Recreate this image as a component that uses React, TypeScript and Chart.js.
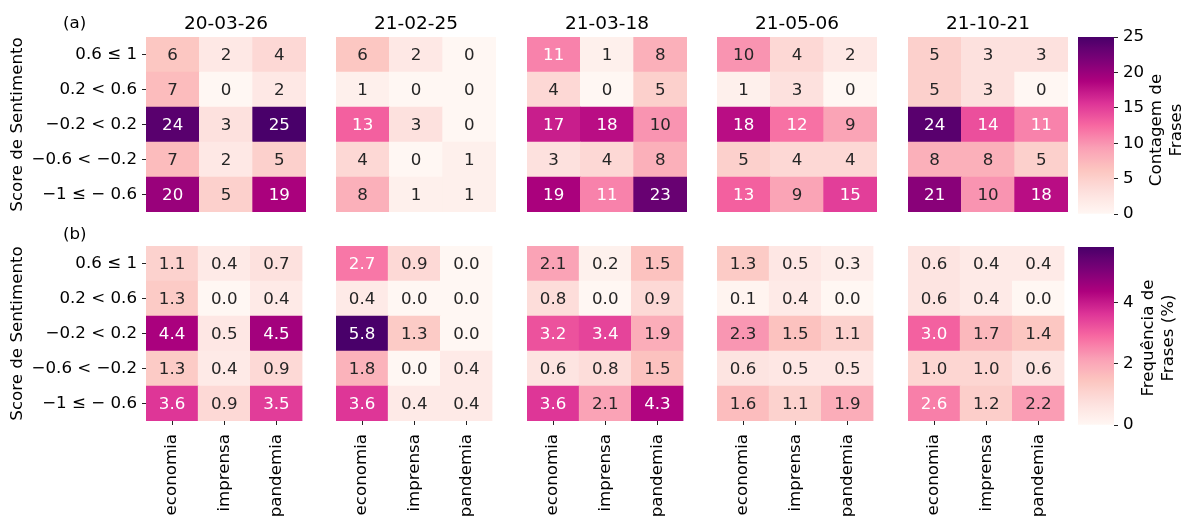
import React, { useEffect, useRef } from 'react';
import { Chart, registerables } from 'chart.js';

Chart.register(...registerables);

const FONT = 'DejaVu Sans';
const FS = 16.67;

// ---------------- data ----------------
const dates = ['20-03-26', '21-02-25', '21-03-18', '21-05-06', '21-10-21'];
const topics = ['economia', 'imprensa', 'pandemia'];
// top row to bottom row
const sentimentBins = ['0.6 ≤ 1', '0.2 < 0.6', '−0.2 < 0.2', '−0.6 < −0.2', '−1 ≤ − 0.6'];

// (a) sentence counts: rows = sentimentBins, cols = topics
const counts200326 = [[6, 2, 4], [7, 0, 2], [24, 3, 25], [7, 2, 5], [20, 5, 19]];
const counts210225 = [[6, 2, 0], [1, 0, 0], [13, 3, 0], [4, 0, 1], [8, 1, 1]];
const counts210318 = [[11, 1, 8], [4, 0, 5], [17, 18, 10], [3, 4, 8], [19, 11, 23]];
const counts210506 = [[10, 4, 2], [1, 3, 0], [18, 12, 9], [5, 4, 4], [13, 9, 15]];
const counts211021 = [[5, 3, 3], [5, 3, 0], [24, 14, 11], [8, 8, 5], [21, 10, 18]];

// (b) sentence frequency (%)
const freq200326 = [[1.1, 0.4, 0.7], [1.3, 0.0, 0.4], [4.4, 0.5, 4.5], [1.3, 0.4, 0.9], [3.6, 0.9, 3.5]];
const freq210225 = [[2.7, 0.9, 0.0], [0.4, 0.0, 0.0], [5.8, 1.3, 0.0], [1.8, 0.0, 0.4], [3.6, 0.4, 0.4]];
const freq210318 = [[2.1, 0.2, 1.5], [0.8, 0.0, 0.9], [3.2, 3.4, 1.9], [0.6, 0.8, 1.5], [3.6, 2.1, 4.3]];
const freq210506 = [[1.3, 0.5, 0.3], [0.1, 0.4, 0.0], [2.3, 1.5, 1.1], [0.6, 0.5, 0.5], [1.6, 1.1, 1.9]];
const freq211021 = [[0.6, 0.4, 0.4], [0.6, 0.4, 0.0], [3.0, 1.7, 1.4], [1.0, 1.0, 0.6], [2.6, 1.2, 2.2]];

const countPanels = [counts200326, counts210225, counts210318, counts210506, counts211021];
const freqPanels = [freq200326, freq210225, freq210318, freq210506, freq211021];

const countTicks = [0, 5, 10, 15, 20, 25];
const freqTicks = [0, 2, 4];
const countLabel = ['Contagem de', 'Frases'];
const freqLabel = ['Frequência de', 'Frases (%)'];
const yTitle = 'Score de Sentimento';

// ---------------- colour map (RdPu) ----------------
const RDPU = [
  [255, 247, 243], [253, 224, 221], [252, 197, 192], [250, 159, 181], [247, 104, 161],
  [221, 52, 151], [174, 1, 126], [122, 1, 119], [73, 0, 106],
];
function rdpuRGB(t: number): number[] {
  const c = Math.max(0, Math.min(1, t)) * (RDPU.length - 1);
  const i = Math.min(RDPU.length - 2, Math.floor(c));
  const f = c - i;
  return [0, 1, 2].map((k) => RDPU[i][k] + (RDPU[i + 1][k] - RDPU[i][k]) * f);
}
const rgbStr = (c: number[]) => `rgb(${Math.round(c[0])},${Math.round(c[1])},${Math.round(c[2])})`;
const rdpu = (t: number) => rgbStr(rdpuRGB(t));
function textColorFor(t: number) {
  const lin = rdpuRGB(t).map((v) => {
    const s = v / 255;
    return s <= 0.03928 ? s / 12.92 : Math.pow((s + 0.055) / 1.055, 2.4);
  });
  const lum = 0.2126 * lin[0] + 0.7152 * lin[1] + 0.0722 * lin[2];
  return lum > 0.408 ? '#262626' : '#ffffff';
}

const countMax = Math.max(...countPanels.flat(2));
const freqMax = Math.max(...freqPanels.flat(2));

// ---------------- chart configs ----------------
type HeatOpts = {
  values: number[][];
  vmax: number;
  decimals: number;
  title?: string;
  showY: boolean;
  showX: boolean;
  padTop: number;
  padBottom: number;
  yWidth: number;
  xHeight: number;
  corner?: { text: string; x: number; y: number };
};

function heatConfig(o: HeatOpts): any {
  const nRows = sentimentBins.length;
  const datasets: any[] = [];
  for (let r = nRows - 1; r >= 0; r--) {
    datasets.push({
      label: sentimentBins[r],
      data: topics.map(() => 1),
      cellValues: o.values[r],
      backgroundColor: o.values[r].map((v) => rdpu(v / o.vmax)),
      borderWidth: 0,
      barPercentage: 1,
      categoryPercentage: 1,
      stack: 'heat',
    });
  }
  const annotate = {
    id: 'annotate',
    afterDatasetsDraw(chart: any) {
      const ctx = chart.ctx;
      ctx.save();
      ctx.font = `${FS}px "${FONT}"`;
      ctx.textAlign = 'center';
      ctx.textBaseline = 'middle';
      chart.data.datasets.forEach((ds: any, di: number) => {
        const meta = chart.getDatasetMeta(di);
        meta.data.forEach((bar: any, i: number) => {
          const p = bar.getProps(['x', 'y', 'base'], true);
          const v = ds.cellValues[i];
          ctx.fillStyle = textColorFor(v / o.vmax);
          ctx.fillText(v.toFixed(o.decimals), p.x, (p.y + p.base) / 2 + 1);
        });
      });
      if (o.corner) {
        ctx.fillStyle = '#000';
        ctx.textAlign = 'left';
        ctx.fillText(o.corner.text, o.corner.x, o.corner.y);
      }
      ctx.restore();
    },
  };
  return {
    type: 'bar',
    data: { labels: topics, datasets },
    options: {
      animation: false,
      responsive: false,
      devicePixelRatio: 1,
      layout: { padding: { top: o.padTop, bottom: o.padBottom, left: 0, right: 0 } },
      plugins: {
        legend: { display: false },
        tooltip: { enabled: false },
        title: {
          display: !!o.title,
          text: o.title || '',
          color: '#000',
          font: { family: FONT, size: 18.5, weight: 'normal' },
          padding: { top: 12.9, bottom: 1.9 },
          fullSize: false,
        },
      },
      scales: {
        x: {
          type: 'category',
          stacked: true,
          display: o.showX,
          offset: true,
          grid: { display: true, offset: false, drawOnChartArea: false, drawTicks: true, tickLength: 4, color: '#222' },
          border: { display: false },
          ticks: { minRotation: 90, maxRotation: 90, autoSkip: false, padding: 9, color: '#000', font: { family: FONT, size: FS } },
          afterFit: (s: any) => { s.height = o.xHeight; },
        },
        y: {
          type: 'linear',
          stacked: true,
          min: 0,
          max: nRows,
          display: o.showY,
          afterBuildTicks: (s: any) => {
            s.ticks = sentimentBins.map((_, i) => ({ value: i + 0.5 }));
          },
          ticks: {
            padding: 5,
            color: '#000',
            font: { family: FONT, size: FS },
            callback: (v: any) => sentimentBins[nRows - 1 - Math.floor(Number(v))],
          },
          grid: { display: true, drawOnChartArea: false, drawTicks: true, tickLength: 4, color: '#222' },
          border: { display: false },
          title: {
            display: true,
            text: yTitle,
            color: '#000',
            font: { family: FONT, size: FS },
            padding: { top: 8, bottom: 0 },
          },
          afterFit: (s: any) => { s.width = o.yWidth; },
        },
      },
    },
    plugins: [annotate],
  };
}

function colorbarConfig(vmax: number, ticks: number[], label: string[], padTop: number, padBottom: number, labelX: number[], labelY: number): any {
  const cbLabel = {
    id: 'cbLabel',
    afterDraw(chart: any) {
      const ctx = chart.ctx;
      ctx.save();
      ctx.font = `${FS}px "${FONT}"`;
      ctx.fillStyle = '#000';
      ctx.textAlign = 'center';
      ctx.textBaseline = 'middle';
      label.forEach((line, i) => {
        ctx.save();
        ctx.translate(labelX[i], labelY);
        ctx.rotate(-Math.PI / 2);
        ctx.fillText(line, 0, 0);
        ctx.restore();
      });
      ctx.restore();
    },
  };
  return {
    type: 'bar',
    data: {
      labels: ['cb'],
      datasets: [{
        data: [[0, vmax]],
        borderWidth: 0,
        barPercentage: 1,
        categoryPercentage: 1,
        backgroundColor: (c: any) => {
          const chart = c.chart;
          const ys = chart.scales && chart.scales.y;
          if (!chart.chartArea || !ys) return rdpu(0.5);
          const g = chart.ctx.createLinearGradient(0, ys.getPixelForValue(0), 0, ys.getPixelForValue(vmax));
          for (let i = 0; i <= 32; i++) g.addColorStop(i / 32, rdpu(i / 32));
          return g;
        },
      }],
    },
    options: {
      animation: false,
      responsive: false,
      devicePixelRatio: 1,
      layout: { padding: { top: padTop, bottom: padBottom, left: 0, right: 0 } },
      plugins: { legend: { display: false }, tooltip: { enabled: false } },
      scales: {
        x: { display: false },
        y: {
          position: 'right',
          min: 0,
          max: vmax,
          afterBuildTicks: (s: any) => { s.ticks = ticks.map((v) => ({ value: v })); },
          ticks: { padding: 5, color: '#000', font: { family: FONT, size: FS } },
          grid: { display: true, drawOnChartArea: false, drawTicks: true, tickLength: 4, color: '#222' },
          border: { display: false },
          afterFit: (s: any) => { s.width = 70; },
        },
      },
    },
    plugins: [cbLabel],
  };
}

// ---------------- components ----------------
function ChartCanvas(props: { left: number; top: number; width: number; height: number; make: () => any }) {
  const ref = useRef<HTMLCanvasElement>(null);
  useEffect(() => {
    const chart = new Chart(ref.current as HTMLCanvasElement, props.make());
    return () => chart.destroy();
  }, []);
  return (
    <canvas
      ref={ref}
      width={props.width}
      height={props.height}
      style={{ position: 'absolute', left: props.left, top: props.top, width: props.width, height: props.height, display: 'block' }}
    />
  );
}

const panelLeft = [146, 336, 527, 717, 908];
const panelW = 160;
const ROW_A_TOP = 0;
const ROW_A_H = 230;
const ROW_B_TOP = 226;
const ROW_B_H = 292;

export default function App() {
  const items: any[] = [];
  panelLeft.forEach((L, k) => {
    const first = k === 0;
    const left = first ? 0 : L;
    const width = first ? L + panelW : panelW;
    items.push(
      <ChartCanvas
        key={`a${k}`}
        left={left}
        top={ROW_A_TOP}
        width={width}
        height={ROW_A_H}
        make={() => heatConfig({
          values: countPanels[k], vmax: countMax, decimals: 0, title: dates[k],
          showY: first, showX: false, padTop: 0, padBottom: 18, yWidth: first ? L : 0, xHeight: 0,
          corner: first ? { text: '(a)', x: 63, y: 24 } : undefined,
        })}
      />
    );
    items.push(
      <ChartCanvas
        key={`b${k}`}
        left={left}
        top={ROW_B_TOP}
        width={width}
        height={ROW_B_H}
        make={() => heatConfig({
          values: freqPanels[k], vmax: freqMax, decimals: 1,
          showY: first, showX: true, padTop: 20, padBottom: 0, yWidth: first ? L : 0, xHeight: 97,
          corner: first ? { text: '(b)', x: 63, y: 9 } : undefined,
        })}
      />
    );
  });
  items.push(
    <ChartCanvas key="cba" left={1078} top={0} width={106} height={230}
      make={() => colorbarConfig(countMax, countTicks, countLabel, 37, 16, [79, 99], 130)} />
  );
  items.push(
    <ChartCanvas key="cbb" left={1078} top={ROW_B_TOP} width={106} height={ROW_B_H}
      make={() => colorbarConfig(freqMax, freqTicks, freqLabel, 21, 93, [71, 91], 112)} />
  );
  return (
    <div style={{ position: 'absolute', left: 0, top: 0, width: 1184, height: 518, background: '#fff', overflow: 'hidden' }}>
      {items}
    </div>
  );
}
